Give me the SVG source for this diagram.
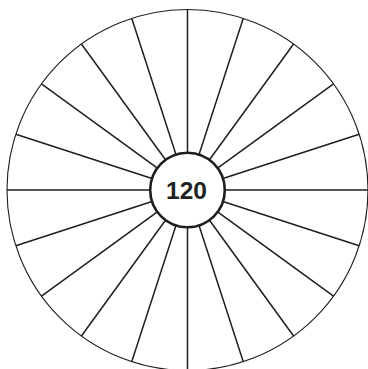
<svg xmlns="http://www.w3.org/2000/svg" xmlns:xlink="http://www.w3.org/1999/xlink" width="368" height="369" viewBox="0 0 368 369">
<style>
.sp{stroke:#1e1e1e;stroke-width:1.5;fill:none}
.outer{stroke:#1e1e1e;stroke-width:1.1;fill:#fff}
.inner{stroke:#1e1e1e;stroke-width:2.6;fill:#fff}
.lbl{font-family:"Liberation Sans",Arial,sans-serif;font-weight:bold;font-size:24.5px;fill:#222;text-anchor:middle}
</style>
<defs><line id="s" class="sp" x1="30" y1="0" x2="180.5" y2="0"/></defs>
<rect width="368" height="369" fill="#fff"/>
<g id="wheel" transform="translate(187.5,190)">
<circle class="outer" cx="0" cy="0" r="180.5"/>
<g id="spokes">
<use xlink:href="#s" transform="rotate(0)"/>
<use xlink:href="#s" transform="rotate(18)"/>
<use xlink:href="#s" transform="rotate(36)"/>
<use xlink:href="#s" transform="rotate(54)"/>
<use xlink:href="#s" transform="rotate(72)"/>
<use xlink:href="#s" transform="rotate(90)"/>
<use xlink:href="#s" transform="rotate(108)"/>
<use xlink:href="#s" transform="rotate(126)"/>
<use xlink:href="#s" transform="rotate(144)"/>
<use xlink:href="#s" transform="rotate(162)"/>
<use xlink:href="#s" transform="rotate(180)"/>
<use xlink:href="#s" transform="rotate(198)"/>
<use xlink:href="#s" transform="rotate(216)"/>
<use xlink:href="#s" transform="rotate(234)"/>
<use xlink:href="#s" transform="rotate(252)"/>
<use xlink:href="#s" transform="rotate(270)"/>
<use xlink:href="#s" transform="rotate(288)"/>
<use xlink:href="#s" transform="rotate(306)"/>
<use xlink:href="#s" transform="rotate(324)"/>
<use xlink:href="#s" transform="rotate(342)"/>
</g>
<g id="hub">
<circle class="inner" cx="0" cy="0" r="37.3"/>
<text class="lbl" x="-1" y="9">120</text>
</g>
</g>
</svg>
